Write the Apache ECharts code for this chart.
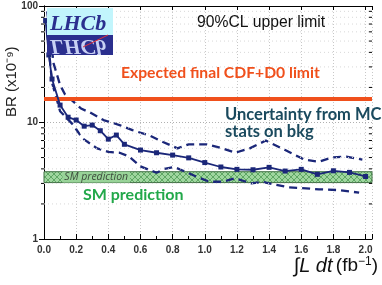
<!DOCTYPE html>
<html>
<head>
<meta charset="utf-8">
<script src="https://cdn.jsdelivr.net/npm/echarts@6/dist/echarts.min.js"></script>
<style>html,body{margin:0;padding:0;background:#fff}#c{width:382px;height:285px}</style>
</head>
<body>
<div id="c"></div>
<script>
// ---- data ----
const centralX = [0.01, 0.03, 0.05, 0.10, 0.15, 0.20, 0.25, 0.30, 0.35, 0.40, 0.45, 0.50, 0.60, 0.70, 0.80, 0.90, 1.00, 1.10, 1.20, 1.30, 1.40, 1.50, 1.60, 1.70, 1.80, 1.90, 2.00];
const centralY = [75, 38, 23.6, 14.1, 11.1, 10.5, 9.3, 9.5, 8.5, 7.2, 7.8, 6.5, 5.8, 5.5, 5.25, 4.97, 4.53, 4.15, 3.96, 3.93, 4.12, 3.83, 3.96, 3.59, 3.85, 3.73, 3.44];
const upperX = [0.02, 0.06, 0.10, 0.13, 0.23, 0.29, 0.37, 0.47, 0.55, 0.66, 0.74, 0.83, 0.90, 1.01, 1.11, 1.19, 1.28, 1.38, 1.50, 1.62, 1.71, 1.79, 1.88, 1.98];
const upperY = [90, 32, 21, 17.5, 13.2, 12.1, 10.5, 9.5, 8.6, 7.7, 6.8, 6.0, 6.5, 6.5, 6.0, 5.5, 6.0, 7.0, 5.8, 4.8, 4.6, 5.0, 5.1, 4.8];
const lowerX = [0.02, 0.05, 0.10, 0.18, 0.24, 0.33, 0.40, 0.47, 0.53, 0.60, 0.70, 0.75, 0.81, 0.88, 0.95, 1.03, 1.11, 1.19, 1.29, 1.36, 1.42, 1.52, 1.63, 1.71, 1.83, 1.96];
const lowerY = [60, 22, 12.5, 9.6, 7.3, 6.0, 5.6, 5.5, 5.1, 4.2, 3.7, 4.0, 4.15, 3.78, 3.42, 3.1, 3.1, 3.32, 3.0, 3.1, 2.96, 2.78, 2.72, 2.67, 2.63, 2.5];
const cdfD0Limit = 16;
const smBand = [3.05, 3.78];
const smLabelRange = [0.115, 0.535];
const yMinorTicks = [2, 3, 4, 5, 6, 7, 8, 9, 20, 30, 40, 50, 60, 70, 80, 90];
const xMax = 2.04;

const pairs = (xs, ys) => xs.map((x, i) => [x, ys[i]]);

// hatch pattern
const pc = document.createElement('canvas');
pc.width = 6; pc.height = 6;
const g = pc.getContext('2d');
g.fillStyle = '#9fd69f'; g.fillRect(0, 0, 6, 6);
g.strokeStyle = '#4f9a55'; g.lineWidth = 0.8;
g.beginPath(); g.moveTo(0, 0); g.lineTo(6, 6); g.moveTo(6, 0); g.lineTo(0, 6); g.stroke();

const navy = '#1b2779';
const chart = echarts.init(document.getElementById('c'));

const minorTickSeries = {
  type: 'custom', silent: true, z: 5,
  data: yMinorTicks.map(v => [v]),
  renderItem: function (params, api) {
    const v = api.value(0);
    const pl = api.coord([0, v]);
    const pr = api.coord([xMax, v]);
    return {
      type: 'group', children: [
        { type: 'line', shape: { x1: pl[0] - 3, y1: pl[1], x2: pl[0], y2: pl[1] }, style: { stroke: '#000', lineWidth: 1 } },
        { type: 'line', shape: { x1: pr[0] - 3, y1: pr[1], x2: pr[0], y2: pr[1] }, style: { stroke: '#000', lineWidth: 1 } },
        { type: 'line', shape: { x1: pl[0], y1: pl[1], x2: pr[0], y2: pr[1] }, style: { stroke: '#d8d8d8', lineWidth: 1, lineDash: [1, 3] } }
      ]
    };
  }
};

chart.setOption({
  animation: false,
  grid: { left: 44, right: 10, top: 6, bottom: 46, show: false },
  xAxis: [{
    type: 'value', min: 0, max: xMax, interval: 0.2,
    axisLine: { lineStyle: { color: '#000', width: 1 } },
    axisTick: { inside: true, length: 5, lineStyle: { color: '#000' } },
    minorTick: { show: true, splitNumber: 2, length: 3, lineStyle: { color: '#000' } },
    splitLine: { show: true, lineStyle: { color: '#c8c8c8', type: [1, 2] } },
    axisLabel: { fontSize: 10, color: '#333', fontFamily: 'Liberation Sans', fontWeight: 'bold', margin: 6, showMaxLabel: false, formatter: v => v.toFixed(1) }
  }, {
    type: 'value', min: 0, max: xMax, interval: 0.2, position: 'top',
    axisLine: { lineStyle: { color: '#000', width: 1 } },
    axisTick: { inside: true, length: 4, lineStyle: { color: '#000' } },
    axisLabel: { show: false }, splitLine: { show: false }
  }],
  yAxis: [{
    type: 'log', logBase: 10, min: 1, max: 100,
    axisLine: { show: true, lineStyle: { color: '#000', width: 1 } },
    axisTick: { show: true, inside: false, length: 5, lineStyle: { color: '#000' } },
    splitLine: { show: true, lineStyle: { color: '#b0b0b0', type: [1, 2] } },
    axisLabel: { fontSize: 10, color: '#333', fontFamily: 'Liberation Sans', fontWeight: 'bold', margin: 6 }
  }, {
    type: 'log', logBase: 10, min: 1, max: 100, position: 'right',
    axisLine: { show: true, lineStyle: { color: '#000', width: 1 } },
    axisTick: { show: true, inside: true, length: 5, lineStyle: { color: '#000' } },
    axisLabel: { show: false }, splitLine: { show: false }
  }],
  series: [
    minorTickSeries,
    {
      type: 'line', data: [], silent: true, z: 3,
      markArea: {
        silent: true,
        data: [
          [{ xAxis: 0, yAxis: smBand[0], itemStyle: { color: { image: pc, repeat: 'repeat' }, borderColor: '#3f6f43', borderWidth: 1 } }, { xAxis: xMax, yAxis: smBand[1] }],
          [{ xAxis: smLabelRange[0], yAxis: smBand[0], itemStyle: { color: '#98d398', borderWidth: 0 },
             label: { show: true, position: 'inside', formatter: 'SM prediction', fontStyle: 'italic', fontSize: 10.5, color: '#3c4c3c', fontFamily: 'Open Sans' } },
           { xAxis: smLabelRange[1], yAxis: smBand[1] }]
        ]
      },
      markLine: {
        silent: true, symbol: 'none', label: { show: false },
        lineStyle: { color: '#f0501c', width: 4, type: 'solid' },
        data: [{ yAxis: cdfD0Limit }]
      }
    },
    {
      type: 'line', data: pairs(upperX, upperY), symbol: 'none', smooth: false, z: 4,
      lineStyle: { color: navy, width: 2.3, type: [8, 5] }
    },
    {
      type: 'line', data: pairs(lowerX, lowerY), symbol: 'none', smooth: false, z: 4,
      lineStyle: { color: navy, width: 2.3, type: [8, 5] }
    },
    {
      type: 'line', data: pairs(centralX, centralY), symbol: 'rect', symbolSize: 5, z: 6,
      lineStyle: { color: navy, width: 1.8 }, itemStyle: { color: navy }
    }
  ],
  graphic: [
    // LHCb logo
    { type: 'rect', z: 100, shape: { x: 47, y: 8, width: 66, height: 27 }, style: { fill: '#c2f5fc' } },
    { type: 'rect', z: 100, shape: { x: 47, y: 35, width: 66, height: 20 }, style: { fill: '#2b2f8e' } },
    { type: 'text', z: 101, left: 50, top: 13, style: { text: 'LHCb', font: 'italic bold 22px "Liberation Serif"', fill: '#2b2f8e' } },
    { type: 'text', z: 101, x: 50, y: 57, scaleY: -1, style: { text: 'LHCb', font: 'italic bold 22px "Liberation Serif"', fill: '#c8d0f4' } },
    { type: 'line', z: 102, shape: { x1: 83, y1: 47, x2: 108, y2: 35 }, style: { stroke: '#e0303a', lineWidth: 1 } },
    // texts
    { type: 'text', z: 50, left: 197, top: 15, style: { text: '90%CL upper limit', font: '15.7px "Liberation Sans"', fill: '#111' } },
    { type: 'text', z: 50, left: 121, top: 65, style: { text: 'Expected final CDF+D0 limit', font: 'bold 15.7px Lato', fill: '#f0501c' } },
    { type: 'text', z: 50, left: 225, top: 106, style: { text: 'Uncertainty from MC', font: 'bold 16.5px Lato', fill: '#1a4a5e' } },
    { type: 'text', z: 50, left: 225, top: 123, style: { text: 'stats on bkg', font: 'bold 16.5px Lato', fill: '#1a4a5e' } },
    { type: 'text', z: 50, left: 83, top: 187, style: { text: 'SM prediction', font: 'bold 16px Lato', fill: '#22a84a' } },
    { type: 'text', z: 50, x: 4, y: 117, rotation: Math.PI / 2, style: { text: 'BR (x10⁻⁹)', font: '15px "Liberation Sans"', fill: '#222', align: 'left', verticalAlign: 'top' } },
    { type: 'text', z: 50, right: 4, top: 256, style: {
        text: '{i|∫L dt} {n|(fb}{s|−1}{n|)}',
        rich: {
          i: { font: 'italic 20px "Liberation Sans"', fill: '#111' },
          n: { font: '19px "Liberation Sans"', fill: '#111' },
          s: { font: '12px "Liberation Sans"', fill: '#111', verticalAlign: 'top', padding: [0, 0, 8, 0] }
        } } }
  ]
});
</script>
</body>
</html>
